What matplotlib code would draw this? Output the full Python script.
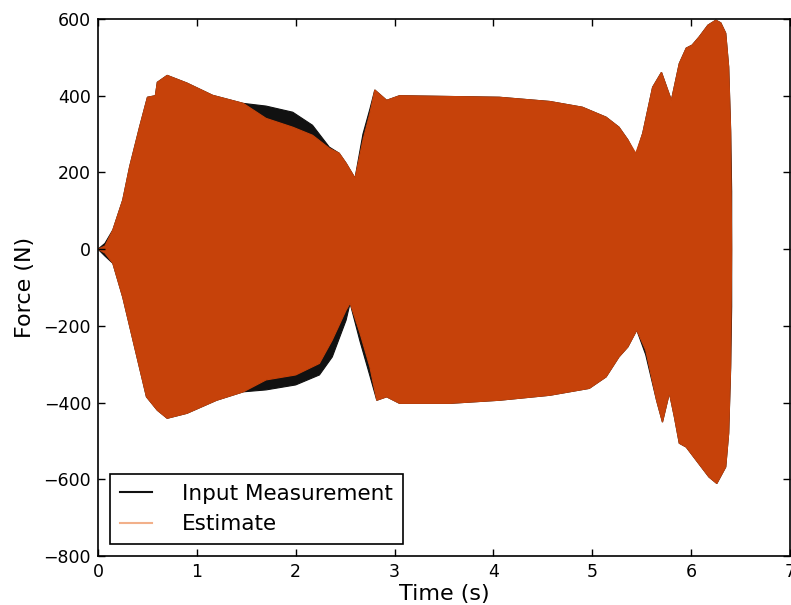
import numpy as np
import matplotlib
matplotlib.use("Agg")
import matplotlib.pyplot as plt
from matplotlib.lines import Line2D

# envelope of the oscillating force (time in s, force in N)
t_upper = [0.0, 0.07, 0.15, 0.25, 0.32, 0.42, 0.5, 0.58, 0.6, 0.7, 0.9, 1.16, 1.47, 1.7,
           1.97, 2.17, 2.34, 2.44, 2.51, 2.6, 2.68, 2.75, 2.8, 2.92, 3.05, 3.56, 4.06, 4.57,
           4.9, 5.14, 5.27, 5.36, 5.44, 5.51, 5.61, 5.7, 5.8, 5.88, 5.95, 6.01, 6.08, 6.17,
           6.25, 6.3, 6.35, 6.38, 6.4, 6.41]
est_upper = [0, 8, 50, 128, 215, 318, 396, 400, 435, 453, 433, 401, 380, 341,
             318, 297, 263, 250, 224, 185, 284, 354, 415, 388, 400, 398, 396, 385,
             370, 344, 318, 285, 250, 302, 422, 461, 388, 484, 524, 532, 553, 584,
             597, 590, 563, 475, 302, 0]
meas_upper = [0, 15, 50, 128, 215, 318, 396, 400, 435, 453, 433, 401, 380, 373,
              357, 323, 266, 250, 224, 185, 300, 365, 415, 388, 400, 398, 396, 385,
              370, 344, 318, 285, 245, 302, 422, 461, 388, 484, 524, 532, 553, 584,
              597, 590, 563, 475, 310, 150]

t_lower = [0.0, 0.07, 0.15, 0.25, 0.49, 0.6, 0.7, 0.9, 1.2, 1.47, 1.7, 2.0, 2.24, 2.37,
           2.51, 2.55, 2.65, 2.75, 2.82, 2.92, 3.05, 3.56, 4.06, 4.57, 4.97, 5.14, 5.27,
           5.36, 5.45, 5.54, 5.65, 5.71, 5.78, 5.83, 5.88, 5.95, 6.05, 6.18, 6.26, 6.35,
           6.38, 6.4, 6.41]
est_lower = [0, -10, -37, -125, -385, -420, -441, -428, -394, -372, -341, -328, -298, -237,
             -159, -141, -219, -307, -394, -385, -402, -402, -394, -381, -363, -333, -281,
             -255, -211, -263, -394, -451, -375, -437, -506, -516, -550, -594, -611, -568,
             -480, -300, 0]
meas_lower = [0, -18, -37, -125, -385, -420, -441, -428, -394, -372, -367, -354, -328, -281,
              -185, -141, -240, -330, -394, -385, -402, -402, -394, -381, -363, -333, -281,
              -255, -211, -275, -394, -451, -375, -437, -506, -516, -550, -594, -611, -568,
              -480, -310, -150]

xticks = [0, 1, 2, 3, 4, 5, 6, 7]
yticks = [-800, -600, -400, -200, 0, 200, 400, 600]

black = "#111111"
orange = "#c6420a"

plt.rcParams["xtick.direction"] = "in"
plt.rcParams["ytick.direction"] = "in"
plt.rcParams["xtick.top"] = True
plt.rcParams["ytick.right"] = True

fig = plt.figure(figsize=(7.91, 6.05), dpi=100)
ax = fig.add_axes([98 / 791, 49 / 605, 692 / 791, 537 / 605])


def envelope(t_up, up, t_lo, lo):
    xs = np.concatenate([t_up, t_lo[::-1]])
    ys = np.concatenate([up, lo[::-1]])
    return xs, ys


xs, ys = envelope(np.array(t_upper), np.array(meas_upper), np.array(t_lower), np.array(meas_lower))
ax.fill(xs, ys, color=black, lw=0.8)
xs, ys = envelope(np.array(t_upper), np.array(est_upper), np.array(t_lower), np.array(est_lower))
ax.fill(xs, ys, color=orange, lw=0.8)

ax.set_xlim(0, 7)
ax.set_ylim(-800, 600)
ax.set_xticks(xticks)
ax.set_yticks(yticks)
ax.set_yticklabels([f"\u2212{-v}" if v < 0 else str(v) for v in yticks])
ax.tick_params(labelsize=12.5, length=5, width=1, pad=5)
for s in ax.spines.values():
    s.set_linewidth(1.2)

ax.set_xlabel("Time (s)", fontsize=16, labelpad=2)
ax.set_ylabel("Force (N)", fontsize=16, labelpad=6)

handles = [Line2D([], [], color=black, lw=1.5),
           Line2D([], [], color="#f2b08a", lw=1.5)]
leg = ax.legend(handles, ["Input Measurement", "Estimate"], loc="lower left",
                fontsize=15.5, fancybox=False, framealpha=1, borderaxespad=0.55,
                borderpad=0.45, labelspacing=0.5, handlelength=1.5, handletextpad=1.4)
leg.get_frame().set_edgecolor("black")
leg.get_frame().set_linewidth(1.2)

fig.savefig("out.png", dpi=100)
